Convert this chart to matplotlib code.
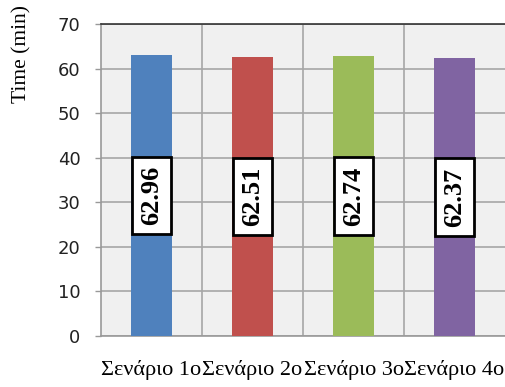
import matplotlib
matplotlib.use("Agg")
import matplotlib.pyplot as plt
from matplotlib.patches import Rectangle
import numpy as np

categories = ["Σενάριο 1ο", "Σενάριο 2ο", "Σενάριο 3ο", "Σενάριο 4ο"]
times = [62.96, 62.51, 62.74, 62.37]
colors = ["#4F81BD", "#C0504D", "#9BBB59", "#8064A2"]
y_ticks = [0, 10, 20, 30, 40, 50, 60, 70]

W, H = 505, 387
fig = plt.figure(figsize=(W / 100, H / 100), dpi=100)
ax = fig.add_axes([101 / W, (H - 336) / H, 404 / W, 312 / H])
ax.set_facecolor("#F0F0F0")

x = np.arange(len(categories))
ax.bar(x, times, width=0.4, color=colors, zorder=3)

ax.set_xlim(-0.5, len(categories) - 0.5)
ax.set_ylim(0, 70)
ax.set_yticks(y_ticks)
ax.set_xticks(x)
ax.set_xticklabels(categories, family="Liberation Serif", fontsize=16)
ax.set_xticks(np.arange(0.5, len(categories) - 0.5), minor=True)
ax.tick_params(axis="x", which="both", length=0, pad=17)
ax.tick_params(axis="y", length=4.3, color="#999999", width=1, pad=10.5)
for lab in ax.get_yticklabels():
    lab.set_family("DejaVu Sans")
    lab.set_fontsize(13)
    lab.set_color("#222222")

ax.grid(axis="y", which="major", color="#A6A6A6", linewidth=1.2, zorder=1)
ax.grid(axis="x", which="minor", color="#A6A6A6", linewidth=1.2, zorder=1)
ax.spines["right"].set_visible(False)
ax.spines["top"].set_color("#333333")
ax.spines["top"].set_linewidth(1.2)
for side in ["left", "bottom"]:
    ax.spines[side].set_color("#999999")
    ax.spines[side].set_linewidth(1.2)

# value labels: white framed boxes centred at half the bar height
box_w, box_h = 0.38, 17.4
for xi, v in zip(x, times):
    ax.add_patch(Rectangle((xi - box_w / 2, v / 2 - box_h / 2), box_w, box_h,
                           facecolor="white", edgecolor="black", linewidth=2,
                           zorder=4))
    ax.text(xi, v / 2, f"{v:.2f}", rotation=90, ha="center", va="center",
            rotation_mode="anchor",
            family="Liberation Serif", fontweight="bold", fontsize=19, zorder=5)

fig.text(22 / W, 1 - 54 / H, "Time (min)", rotation=90, ha="center", va="center",
         family="Liberation Serif", fontsize=15.5)

fig.savefig("out.png", dpi=100)
